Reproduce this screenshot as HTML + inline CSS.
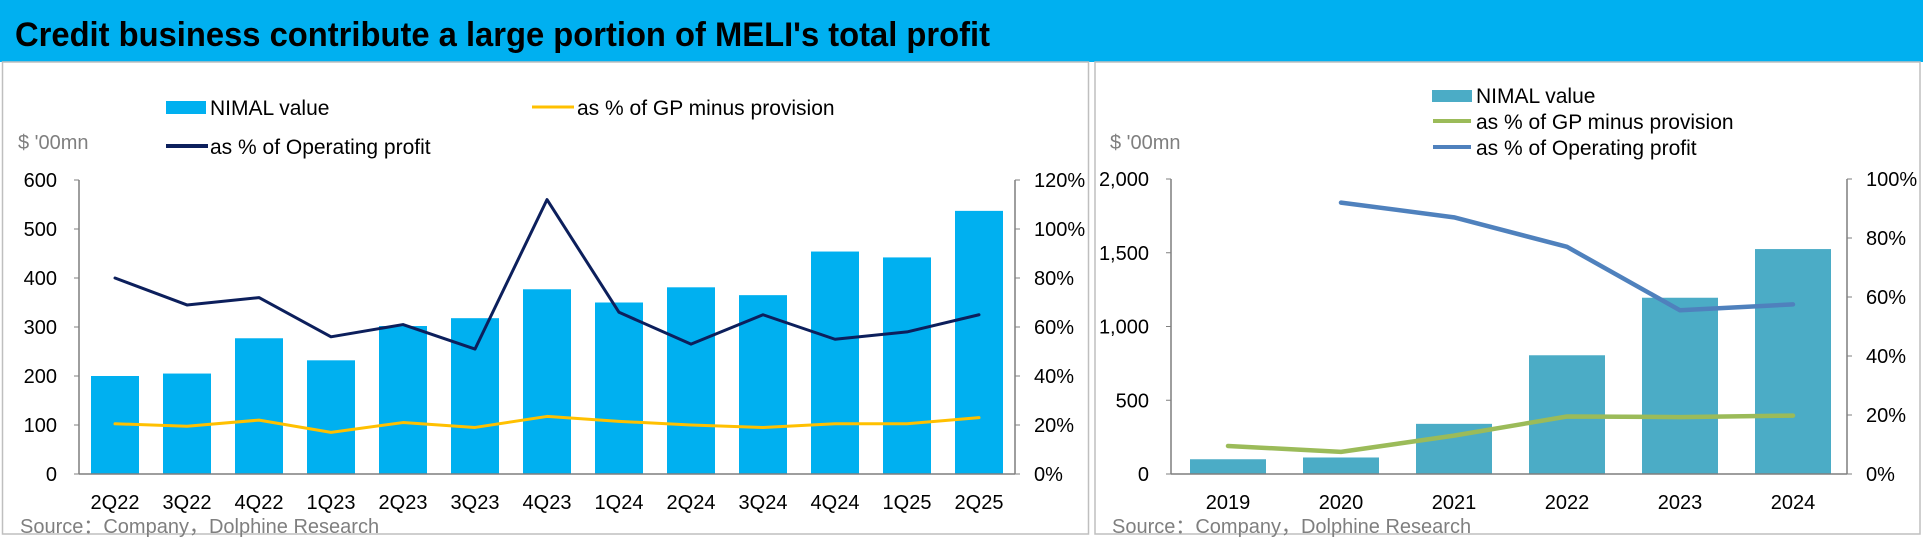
<!DOCTYPE html>
<html><head><meta charset="utf-8"><style>
body{margin:0;background:#fff;}
svg{display:block;font-family:"Liberation Sans","Noto Sans CJK SC",sans-serif;}
</style></head><body>
<svg id="c" width="1923" height="537" viewBox="0 0 1923 537" xmlns="http://www.w3.org/2000/svg">
<rect x="0" y="0" width="1923" height="62" fill="#00b0f0"/>
<text x="15" y="46" font-size="34" font-weight="bold" fill="#000" textLength="975" lengthAdjust="spacingAndGlyphs">Credit business contribute a large portion of MELI's total profit</text>
<rect x="2.5" y="62" width="1086" height="472" fill="none" stroke="#bfbfbf" stroke-width="1.5"/>
<rect x="1095" y="62" width="825" height="472" fill="none" stroke="#bfbfbf" stroke-width="1.5"/>
<g id="L"></g><g id="R"></g>
</svg>
<script>
const qCats=["2Q22","3Q22","4Q22","1Q23","2Q23","3Q23","4Q23","1Q24","2Q24","3Q24","4Q24","1Q25","2Q25"];
const qNimal=[200,205,277,232,302,318,377,350,381,365,454,442,537];
const qOpPct=[80,69,72,56,61,51,112,66,53,65,55,58,65];
const qGpPct=[20.5,19.5,22,17,21,19,23.5,21.5,20,19,20.5,20.5,23];
const qLeftTicks=[0,100,200,300,400,500,600];
const qRightTicks=[0,20,40,60,80,100,120];
const yCats=["2019","2020","2021","2022","2023","2024"];
const yNimal=[100,112,340,805,1195,1525];
const yOpPct=[null,92,87,77,55.5,57.5];
const yGpPct=[9.5,7.5,13,19.5,19.3,19.8];
const yLeftTicks=[0,500,1000,1500,2000];
const yRightTicks=[0,20,40,60,80,100];
const NS="http://www.w3.org/2000/svg";
function mk(p,t,a,txt){const e=document.createElementNS(NS,t);for(const k in a)e.setAttribute(k,a[k]);if(txt!=null)e.textContent=txt;p.appendChild(e);return e;}
function chart(g,o){
  const yL=v=>o.y0-(v/o.lmax)*(o.y0-o.y1);
  const yR=v=>o.y0-(v/o.rmax)*(o.y0-o.y1);
  const xC=i=>o.xs+i*o.step;
  o.cats.forEach((c,i)=>{
    const r=mk(g,'rect',{x:xC(i)-o.bw/2,y:yL(o.bars[i]),width:o.bw,height:o.y0-yL(o.bars[i]),fill:o.barColor});
    
    
    const t=mk(g,'text',{x:xC(i),y:509,'font-size':20,'text-anchor':'middle',fill:'#000'},c);
    
    
  });
  mk(g,'line',{x1:o.ax1,y1:o.y1,x2:o.ax1,y2:o.y0,stroke:'#7f7f7f','stroke-width':1.5});
  mk(g,'line',{x1:o.ax2,y1:o.y1,x2:o.ax2,y2:o.y0,stroke:'#7f7f7f','stroke-width':1.5});
  mk(g,'line',{x1:o.ax1,y1:o.y0,x2:o.ax2,y2:o.y0,stroke:'#7f7f7f','stroke-width':1.5});
  o.lt.forEach(v=>{
    mk(g,'line',{x1:o.ax1-5,y1:yL(v),x2:o.ax1,y2:yL(v),stroke:'#7f7f7f'});
    const t=mk(g,'text',{x:o.ax1-22,y:yL(v)+7,'font-size':20,'text-anchor':'end',fill:'#000'},o.fmt(v));
    
    
  });
  o.rt.forEach(v=>{
    mk(g,'line',{x1:o.ax2,y1:yR(v),x2:o.ax2+5,y2:yR(v),stroke:'#7f7f7f'});
    const t=mk(g,'text',{x:o.ax2+19,y:yR(v)+7,'font-size':20,fill:'#000'},v+'%');
    
    
  });
  function line(vals,col,w,name){
    let d='';vals.forEach((v,i)=>{if(v==null)return;d+=(d?'L':'M')+xC(i)+','+yR(v);});
    const p=mk(g,'path',{d:d,fill:'none',stroke:col,'stroke-width':w,'stroke-linejoin':'round','stroke-linecap':'round'});
    
    
  }
  line(o.gp,o.gpColor,o.lw,'gp-pct-line');
  line(o.op,o.opColor,o.lw,'op-pct-line');
}
const L=document.getElementById('L'),R=document.getElementById('R');
chart(L,{cats:qCats,bars:qNimal,op:qOpPct,gp:qGpPct,lt:qLeftTicks,rt:qRightTicks,lmax:600,rmax:120,y0:474,y1:180,ax1:79,ax2:1015,xs:115,step:72,bw:48,barColor:'#00b0f0',gpColor:'#ffc000',opColor:'#0c1f5c',lw:3,fmt:v=>String(v)});
chart(R,{cats:yCats,bars:yNimal,op:yOpPct,gp:yGpPct,lt:yLeftTicks,rt:yRightTicks,lmax:2000,rmax:100,y0:474,y1:179,ax1:1171,ax2:1847,xs:1228,step:113,bw:76,barColor:'#4bacc6',gpColor:'#9bbb59',opColor:'#4f81bd',lw:4.5,fmt:v=>v.toLocaleString('en-US')});
function T(x,y,s,txt,fill,name){const t=mk(document.getElementById('c'),'text',{x:x,y:y,'font-size':s,fill:fill},txt);}
const svg=document.getElementById('c');
let e;
e=mk(svg,'rect',{x:166,y:101,width:40,height:13,fill:'#00b0f0'});
T(210,115,21,'NIMAL value','#000','legend-nimal');
e=mk(svg,'line',{x1:532,y1:107,x2:574,y2:107,stroke:'#ffc000','stroke-width':3});
T(577,115,21,'as % of GP minus provision','#000','legend-gp');
e=mk(svg,'line',{x1:166,y1:146,x2:208,y2:146,stroke:'#0c1f5c','stroke-width':4});
T(210,154,21,'as % of Operating profit','#000','legend-op');
T(18,149,20,"$ '00mn",'#7f7f7f','left-unit-label');
T(20,533,20,'Source：Company，Dolphine Research','#7f7f7f','left-source');
e=mk(svg,'rect',{x:1432,y:90,width:40,height:12,fill:'#4bacc6'});
T(1476,103,21,'NIMAL value','#000','legend-nimal-r');
e=mk(svg,'line',{x1:1433,y1:121,x2:1471,y2:121,stroke:'#9bbb59','stroke-width':4});
T(1476,129,21,'as % of GP minus provision','#000','legend-gp-r');
e=mk(svg,'line',{x1:1433,y1:147,x2:1471,y2:147,stroke:'#4f81bd','stroke-width':4});
T(1476,155,21,'as % of Operating profit','#000','legend-op-r');
T(1110,149,20,"$ '00mn",'#7f7f7f','right-unit-label');
T(1112,533,20,'Source：Company，Dolphine Research','#7f7f7f','right-source');
</script>
</body></html>
